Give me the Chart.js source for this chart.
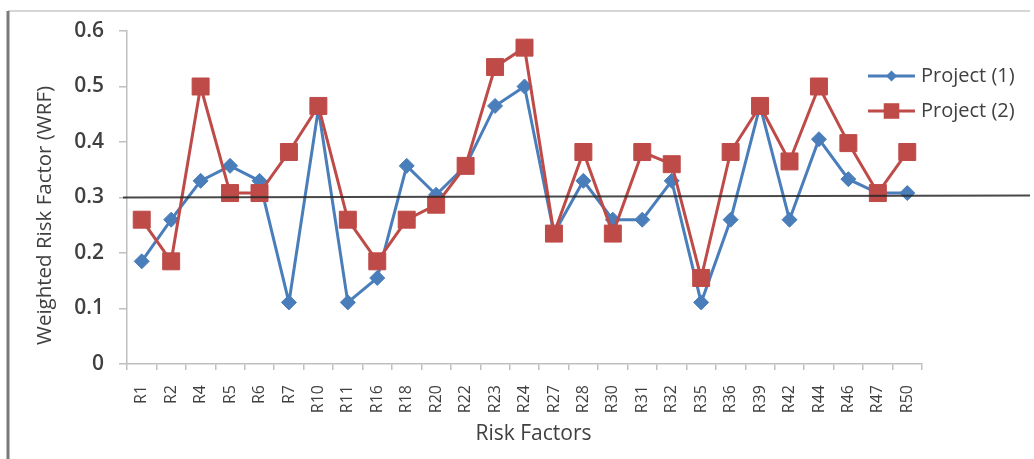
<!DOCTYPE html>
<html>
<head>
<meta charset="utf-8">
<script src="https://cdn.jsdelivr.net/npm/chart.js@4/dist/chart.umd.min.js"></script>
<style>
  html, body { margin: 0; padding: 0; background: #ffffff; }
  #wrap { position: relative; width: 1034px; height: 459px; }
</style>
</head>
<body>
<div id="wrap"><canvas id="c" width="1034" height="459"></canvas></div>
<script>
const categories = ["R1","R2","R4","R5","R6","R7","R10","R11","R16","R18","R20","R22","R23","R24","R27","R28","R30","R31","R32","R35","R36","R39","R42","R44","R46","R47","R50"];
const project1 = [0.185,0.26,0.33,0.357,0.33,0.111,0.46,0.111,0.155,0.357,0.305,0.357,0.465,0.50,0.235,0.33,0.26,0.26,0.33,0.111,0.26,0.465,0.26,0.405,0.333,0.308,0.308];
const project2 = [0.26,0.185,0.50,0.308,0.308,0.382,0.465,0.26,0.185,0.26,0.287,0.357,0.535,0.57,0.235,0.382,0.235,0.382,0.36,0.155,0.382,0.465,0.365,0.50,0.398,0.308,0.382];
const seriesNames = ["Project (1)", "Project (2)"];
const yTicks = [0, 0.1, 0.2, 0.3, 0.4, 0.5, 0.6];
const thresholdValue = 0.3;
const xTitle = 'Risk Factors';
const yTitle = 'Weighted Risk Factor (WRF)';

const BLUE = '#4A7EBB';
const RED = '#BE4B48';
const TEXT = '#404040';
const FONT = '"Open Sans", Lato, sans-serif';

const framePlugin = {
  id: 'frame',
  beforeDraw(chart) {
    const ctx = chart.ctx;
    ctx.save();
    ctx.fillStyle = '#ffffff';
    ctx.fillRect(0, 0, chart.width, chart.height);
    ctx.strokeStyle = '#c8c8c8';
    ctx.lineWidth = 1.5;
    ctx.beginPath();
    ctx.moveTo(8, 11);
    ctx.lineTo(1030, 11);
    ctx.stroke();
    ctx.strokeStyle = '#7a7a7a';
    ctx.lineWidth = 3;
    ctx.beginPath();
    ctx.moveTo(8, 11);
    ctx.lineTo(8, chart.height);
    ctx.stroke();
    ctx.restore();
  }
};

const titlesPlugin = {
  id: 'titles',
  afterDraw(chart) {
    const ctx = chart.ctx;
    const ca = chart.chartArea;
    ctx.save();
    ctx.fillStyle = TEXT;
    ctx.textAlign = 'center';
    ctx.textBaseline = 'middle';
    ctx.font = '21px ' + FONT;
    ctx.fillText(xTitle, (ca.left + ca.right) / 2 + 9, 434);
    ctx.translate(45, (ca.top + ca.bottom) / 2 + 18);
    ctx.rotate(-Math.PI / 2);
    ctx.font = '20.5px ' + FONT;
    ctx.fillText(yTitle, 0, 0);
    ctx.restore();
  }
};

const thresholdPlugin = {
  id: 'threshold',
  afterDatasetsDraw(chart) {
    const ctx = chart.ctx;
    const y = chart.scales.y;
    const ca = chart.chartArea;
    const py = y.getPixelForValue(thresholdValue);
    ctx.save();
    ctx.strokeStyle = 'rgba(40,40,40,0.85)';
    ctx.lineWidth = 2;
    ctx.beginPath();
    ctx.moveTo(ca.left - 4, py);
    ctx.lineTo(chart.width - 4, py - 2);
    ctx.stroke();
    ctx.restore();
  }
};

const legendPlugin = {
  id: 'customLegend',
  afterDraw(chart) {
    const ctx = chart.ctx;
    const items = [
      { name: seriesNames[0], color: BLUE, style: 'rectRot', r: 5.5 },
      { name: seriesNames[1], color: RED, style: 'rect', r: 11 }
    ];
    const x0 = 868, x1 = 915, ys = [76, 111];
    ctx.save();
    items.forEach((it, i) => {
      const y = ys[i];
      ctx.strokeStyle = it.color;
      ctx.lineWidth = 3;
      ctx.beginPath();
      ctx.moveTo(x0, y);
      ctx.lineTo(x1, y);
      ctx.stroke();
      ctx.fillStyle = it.color;
      ctx.beginPath();
      const cx = (x0 + x1) / 2;
      if (it.style === 'rectRot') {
        ctx.moveTo(cx - it.r, y); ctx.lineTo(cx, y - it.r); ctx.lineTo(cx + it.r, y); ctx.lineTo(cx, y + it.r);
      } else {
        const s = it.r * Math.SQRT1_2;
        ctx.rect(cx - s, y - s, 2 * s, 2 * s);
      }
      ctx.closePath();
      ctx.fill();
      ctx.fillStyle = TEXT;
      ctx.font = '20px ' + FONT;
      ctx.textAlign = 'left';
      ctx.textBaseline = 'middle';
      ctx.fillText(it.name, 921, y);
    });
    ctx.restore();
  }
};

new Chart(document.getElementById('c'), {
  type: 'line',
  data: {
    labels: categories,
    datasets: [
      {
        label: seriesNames[0],
        data: project1,
        borderColor: BLUE,
        backgroundColor: BLUE,
        borderWidth: 3,
        pointStyle: 'rectRot',
        pointRadius: 7.5,
        pointBorderWidth: 1,
        tension: 0,
        order: 1
      },
      {
        label: seriesNames[1],
        data: project2,
        borderColor: RED,
        backgroundColor: RED,
        borderWidth: 3,
        pointStyle: 'rect',
        pointRadius: 12,
        pointBorderWidth: 1,
        tension: 0,
        order: 0
      }
    ]
  },
  options: {
    responsive: false,
    animation: false,
    devicePixelRatio: 1,
    layout: { padding: { left: 10, right: 112, top: 31, bottom: 0 } },
    plugins: {
      legend: { display: false },
      tooltip: { enabled: false }
    },
    scales: {
      x: {
        type: 'category',
        offset: true,
        grid: {
          offset: true,
          drawOnChartArea: false,
          drawTicks: true,
          tickLength: 6,
          color: '#bfbfbf',
          lineWidth: 1.5
        },
        border: { color: '#bfbfbf', width: 1.5 },
        ticks: {
          color: TEXT,
          font: { family: FONT, size: 16 },
          minRotation: 90,
          maxRotation: 90,
          padding: 15,
          autoSkip: false
        },
        title: { display: false },
        afterFit(s) { s.height = 95; }
      },
      y: {
        min: 0,
        max: 0.6,
        afterBuildTicks(s) { s.ticks = yTicks.map(v => ({ value: v })); },
        grid: {
          drawOnChartArea: false,
          drawTicks: true,
          tickLength: 8,
          color: '#bfbfbf',
          lineWidth: 1.5
        },
        border: { color: '#bfbfbf', width: 1.5 },
        ticks: {
          color: TEXT,
          font: { family: FONT, size: 21, weight: '600' },
          padding: 15,
          callback: v => String(Math.round(v * 10) / 10)
        },
        title: { display: false },
        afterFit(s) { s.width = 117; }
      }
    }
  },
  plugins: [framePlugin, thresholdPlugin, legendPlugin, titlesPlugin]
});
</script>
</body>
</html>
